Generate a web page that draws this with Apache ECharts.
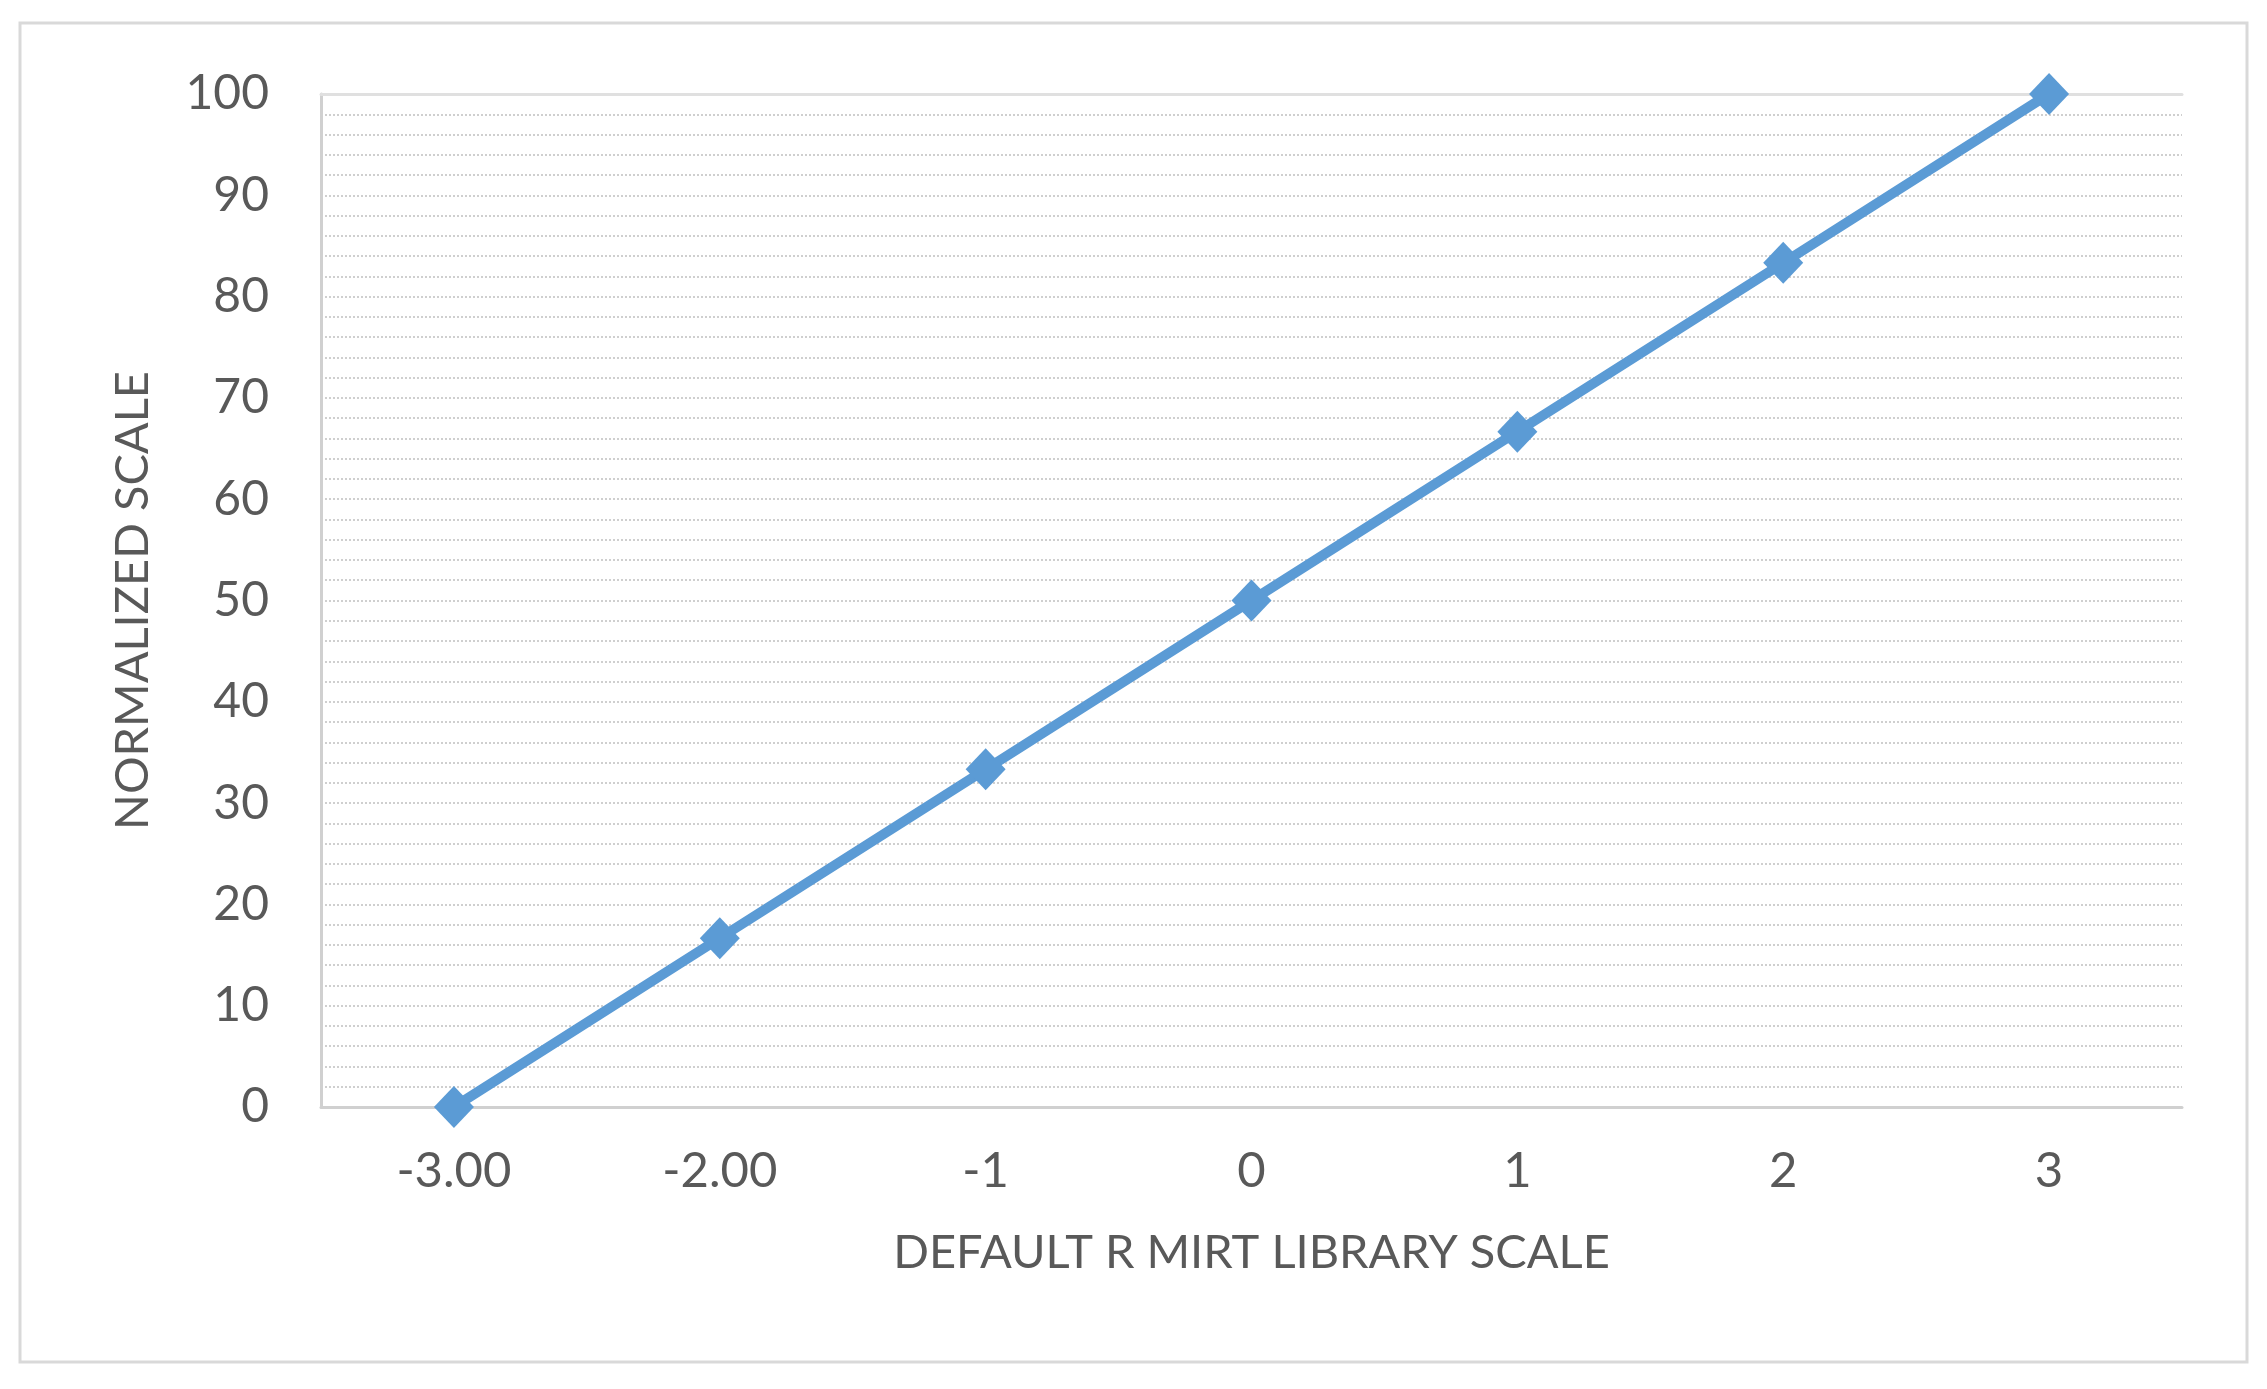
<!DOCTYPE html>
<html>
<head>
<meta charset="utf-8">
<script src="https://cdn.jsdelivr.net/npm/echarts@6/dist/echarts.min.js"></script>
<style>
  html, body { margin: 0; padding: 0; background: #ffffff; }
  #chart { width: 2267px; height: 1389px; }
</style>
</head>
<body>
<div id="chart"></div>
<script>
// Data
var categories = ['-3.00', '-2.00', '-1', '0', '1', '2', '3'];
var normalizedValues = [0, 16.67, 33.33, 50, 66.67, 83.33, 100];
var xAxisTitle = 'DEFAULT R MIRT LIBRARY SCALE';
var yAxisTitle = 'NORMALIZED SCALE';

var textColor = '#595959';
var fontFamily = 'Lato, "Open Sans", sans-serif';

var chart = echarts.init(document.getElementById('chart'), null, { renderer: 'canvas' });
chart.setOption({
  backgroundColor: '#ffffff',
  animation: false,
  graphic: [{
    type: 'rect',
    shape: { x: 20, y: 23, width: 2227, height: 1339 },
    style: { fill: 'none', stroke: '#d9d9d9', lineWidth: 3 },
    silent: true
  }],
  grid: { left: 321, right: 85, top: 94, bottom: 282 },
  xAxis: [{
    type: 'category',
    data: categories,
    boundaryGap: true,
    name: xAxisTitle,
    nameLocation: 'middle',
    nameGap: 122,
    nameTextStyle: { color: textColor, fontSize: 47, fontFamily: fontFamily },
    axisLine: { show: true, lineStyle: { color: '#d0d0d0', width: 3 } },
    axisTick: { show: false },
    axisLabel: { color: textColor, fontSize: 49, fontFamily: fontFamily, margin: 40 },
    splitLine: { show: false }
  }, {
    type: 'category',
    data: categories,
    position: 'top',
    axisLine: { show: true, lineStyle: { color: '#e0e0e0', width: 3 } },
    axisTick: { show: false },
    axisLabel: { show: false },
    splitLine: { show: false }
  }],
  yAxis: {
    type: 'value',
    min: 0,
    max: 100,
    interval: 10,
    name: yAxisTitle,
    nameLocation: 'middle',
    nameRotate: 90,
    nameGap: 165,
    nameTextStyle: { color: textColor, fontSize: 47, fontFamily: fontFamily },
    axisLine: { show: true, lineStyle: { color: '#d0d0d0', width: 3 } },
    axisTick: { show: false },
    axisLabel: { color: textColor, fontSize: 48, fontFamily: fontFamily, margin: 52 },
    splitLine: { show: true, lineStyle: { color: '#cfcfcf', width: 2, type: [2, 2] } },
    minorTick: { show: false, splitNumber: 5 },
    minorSplitLine: { show: true, lineStyle: { color: '#cfcfcf', width: 2, type: [2, 2] } }
  },
  series: [{
    type: 'line',
    data: normalizedValues,
    xAxisIndex: 0,
    symbol: 'diamond',
    symbolSize: [40, 42],
    showSymbol: true,
    lineStyle: { color: '#5b9bd5', width: 10 },
    itemStyle: { color: '#5b9bd5' },
    z: 5
  }]
});
</script>
</body>
</html>
